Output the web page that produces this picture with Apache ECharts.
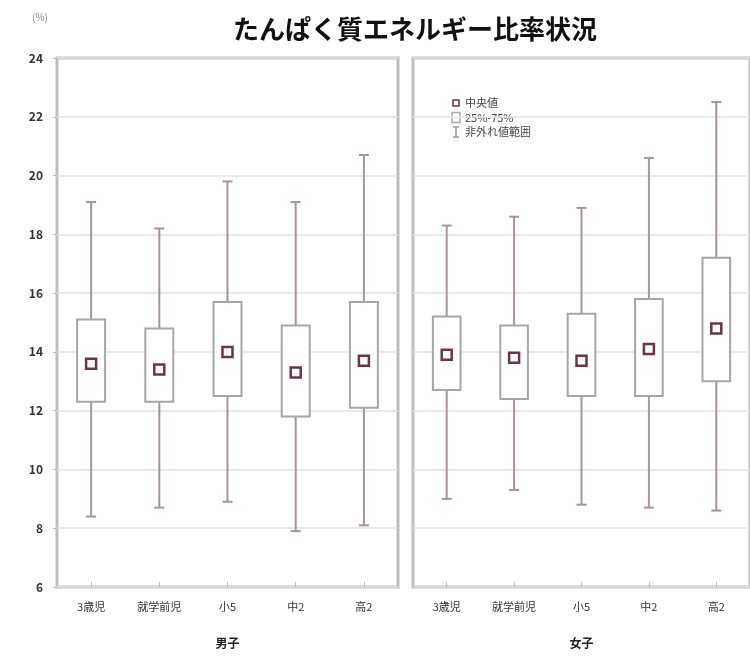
<!DOCTYPE html>
<html>
<head>
<meta charset="utf-8">
<script src="https://cdn.jsdelivr.net/npm/echarts@6/dist/echarts.min.js"></script>
<style>
  html, body { margin: 0; padding: 0; background: #fff; }
  #chart { width: 750px; height: 657px; }
</style>
</head>
<body>
<div id="chart"></div>
<script>
// Age groups on the x axis of each panel
const categories = ['3歳児', '就学前児', '小5', '中2', '高2'];
const groups = ['男子', '女子'];

// Protein energy ratio (%) per age group: non-outlier range, quartiles and median
const boysMin    = [8.4, 8.7, 8.9, 7.9, 8.1];
const boysQ1     = [12.3, 12.3, 12.5, 11.8, 12.1];
const boysMedian = [13.6, 13.4, 14.0, 13.3, 13.7];
const boysQ3     = [15.1, 14.8, 15.7, 14.9, 15.7];
const boysMax    = [19.1, 18.2, 19.8, 19.1, 20.7];

const girlsMin    = [9.0, 9.3, 8.8, 8.7, 8.6];
const girlsQ1     = [12.7, 12.4, 12.5, 12.5, 13.0];
const girlsMedian = [13.9, 13.8, 13.7, 14.1, 14.8];
const girlsQ3     = [15.2, 14.9, 15.3, 15.8, 17.2];
const girlsMax    = [18.3, 18.6, 18.9, 20.6, 22.5];

// Value axis range and tick step
const yMin = 6, yMax = 24, yStep = 2;

const legendLabels = ['中央値', '25%-75%', '非外れ値範囲'];

const FONT = '"Noto Sans CJK JP", "Noto Sans", sans-serif';
const whiskerColor = '#a8929c';
const boxColor = '#a6a6a6';
const medianColor = '#6e3446';

function rows(mn, q1, md, q3, mx) {
  return categories.map((c, i) => [i, mn[i], q1[i], md[i], q3[i], mx[i]]);
}

function renderBox(params, api) {
  const i = api.value(0);
  const pMin = api.coord([i, api.value(1)]);
  const pQ1 = api.coord([i, api.value(2)]);
  const pMed = api.coord([i, api.value(3)]);
  const pQ3 = api.coord([i, api.value(4)]);
  const pMax = api.coord([i, api.value(5)]);
  const x = pMed[0];
  const half = api.size([1, 0])[0] * 0.205;
  const cap = 5;
  const ls = { stroke: whiskerColor, lineWidth: 2 };
  return {
    type: 'group',
    children: [
      { type: 'line', shape: { x1: x, y1: pMax[1], x2: x, y2: pQ3[1] }, style: ls },
      { type: 'line', shape: { x1: x - cap, y1: pMax[1], x2: x + cap, y2: pMax[1] }, style: ls },
      { type: 'line', shape: { x1: x, y1: pQ1[1], x2: x, y2: pMin[1] }, style: ls },
      { type: 'line', shape: { x1: x - cap, y1: pMin[1], x2: x + cap, y2: pMin[1] }, style: ls },
      { type: 'rect', shape: { x: x - half, y: pQ3[1], width: half * 2, height: pQ1[1] - pQ3[1] },
        style: { fill: '#fff', stroke: boxColor, lineWidth: 2 } },
      { type: 'rect', shape: { x: x - 5, y: pMed[1] - 5, width: 10, height: 10 },
        style: { fill: '#fff', stroke: medianColor, lineWidth: 2.5 } }
    ]
  };
}

const gridBase = { top: 58, bottom: 70, show: true, borderColor: '#bdbdbd', borderWidth: 3, backgroundColor: '#fff' };

function xAxisFor(gi) {
  return {
    type: 'category', gridIndex: gi, data: categories,
    name: groups[gi], nameLocation: 'middle', nameGap: 50,
    nameTextStyle: { fontFamily: FONT, fontSize: 12, fontWeight: 'bold', color: '#222' },
    axisLine: { show: false },
    axisTick: { show: true, inside: true, alignWithLabel: true, length: 5, lineStyle: { color: '#bbb' } },
    axisLabel: { fontFamily: FONT, fontSize: 11, color: '#333', margin: 14 },
    splitLine: { show: false }
  };
}

function yAxisFor(gi) {
  return {
    type: 'value', gridIndex: gi, min: yMin, max: yMax, interval: yStep,
    axisLine: { show: false },
    axisTick: { show: gi === 0, length: 4, lineStyle: { color: '#bbb' } },
    axisLabel: { show: gi === 0, fontFamily: FONT, fontSize: 12, fontWeight: 'bold', color: '#333', margin: 14 },
    splitLine: { show: true, lineStyle: { color: '#e2e2e2', width: 1.5 } }
  };
}

const lx = 456, ly = 103, lgap = 14.5;
const legendGraphics = [
  // median marker
  { type: 'rect', shape: { x: lx - 3, y: ly - 3, width: 6, height: 6 }, style: { fill: '#fff', stroke: medianColor, lineWidth: 1.5 } },
  // quartile box
  { type: 'rect', shape: { x: lx - 4, y: ly + lgap - 5, width: 8, height: 10 }, style: { fill: '#fff', stroke: boxColor, lineWidth: 1.5 } },
  // whisker
  { type: 'line', shape: { x1: lx, y1: ly + 2 * lgap - 5, x2: lx, y2: ly + 2 * lgap + 5 }, style: { stroke: whiskerColor, lineWidth: 1.5 } },
  { type: 'line', shape: { x1: lx - 3, y1: ly + 2 * lgap - 5, x2: lx + 3, y2: ly + 2 * lgap - 5 }, style: { stroke: whiskerColor, lineWidth: 1.5 } },
  { type: 'line', shape: { x1: lx - 3, y1: ly + 2 * lgap + 5, x2: lx + 3, y2: ly + 2 * lgap + 5 }, style: { stroke: whiskerColor, lineWidth: 1.5 } }
].concat(legendLabels.map((t, k) => ({
  type: 'text', x: lx + 9, y: ly + k * lgap,
  style: { text: t, fontFamily: FONT, fontSize: 11, fill: '#444', verticalAlign: 'middle' }
})));

const chart = echarts.init(document.getElementById('chart'), null, { renderer: 'canvas' });
chart.setOption({
  animation: false,
  backgroundColor: '#fff',
  title: {
    text: 'たんぱく質エネルギー比率状況', left: 410, top: 11, textAlign: 'center',
    textStyle: { fontFamily: FONT, fontSize: 26, fontWeight: 'bold', color: '#111' }
  },
  grid: [
    Object.assign({}, gridBase, { left: 57, width: 341 }),
    Object.assign({}, gridBase, { left: 413, width: 342 })
  ],
  xAxis: [xAxisFor(0), xAxisFor(1)],
  yAxis: [yAxisFor(0), yAxisFor(1)],
  graphic: [
    { type: 'text', left: 32, top: 12, style: { text: '(%)', fontFamily: FONT, fontSize: 10, fill: '#888' } },
    { type: 'group', children: legendGraphics }
  ],
  series: [
    { type: 'custom', xAxisIndex: 0, yAxisIndex: 0, renderItem: renderBox,
      encode: { x: 0, y: [1, 2, 3, 4, 5] },
      data: rows(boysMin, boysQ1, boysMedian, boysQ3, boysMax) },
    { type: 'custom', xAxisIndex: 1, yAxisIndex: 1, renderItem: renderBox,
      encode: { x: 0, y: [1, 2, 3, 4, 5] },
      data: rows(girlsMin, girlsQ1, girlsMedian, girlsQ3, girlsMax) }
  ]
});
</script>
</body>
</html>
